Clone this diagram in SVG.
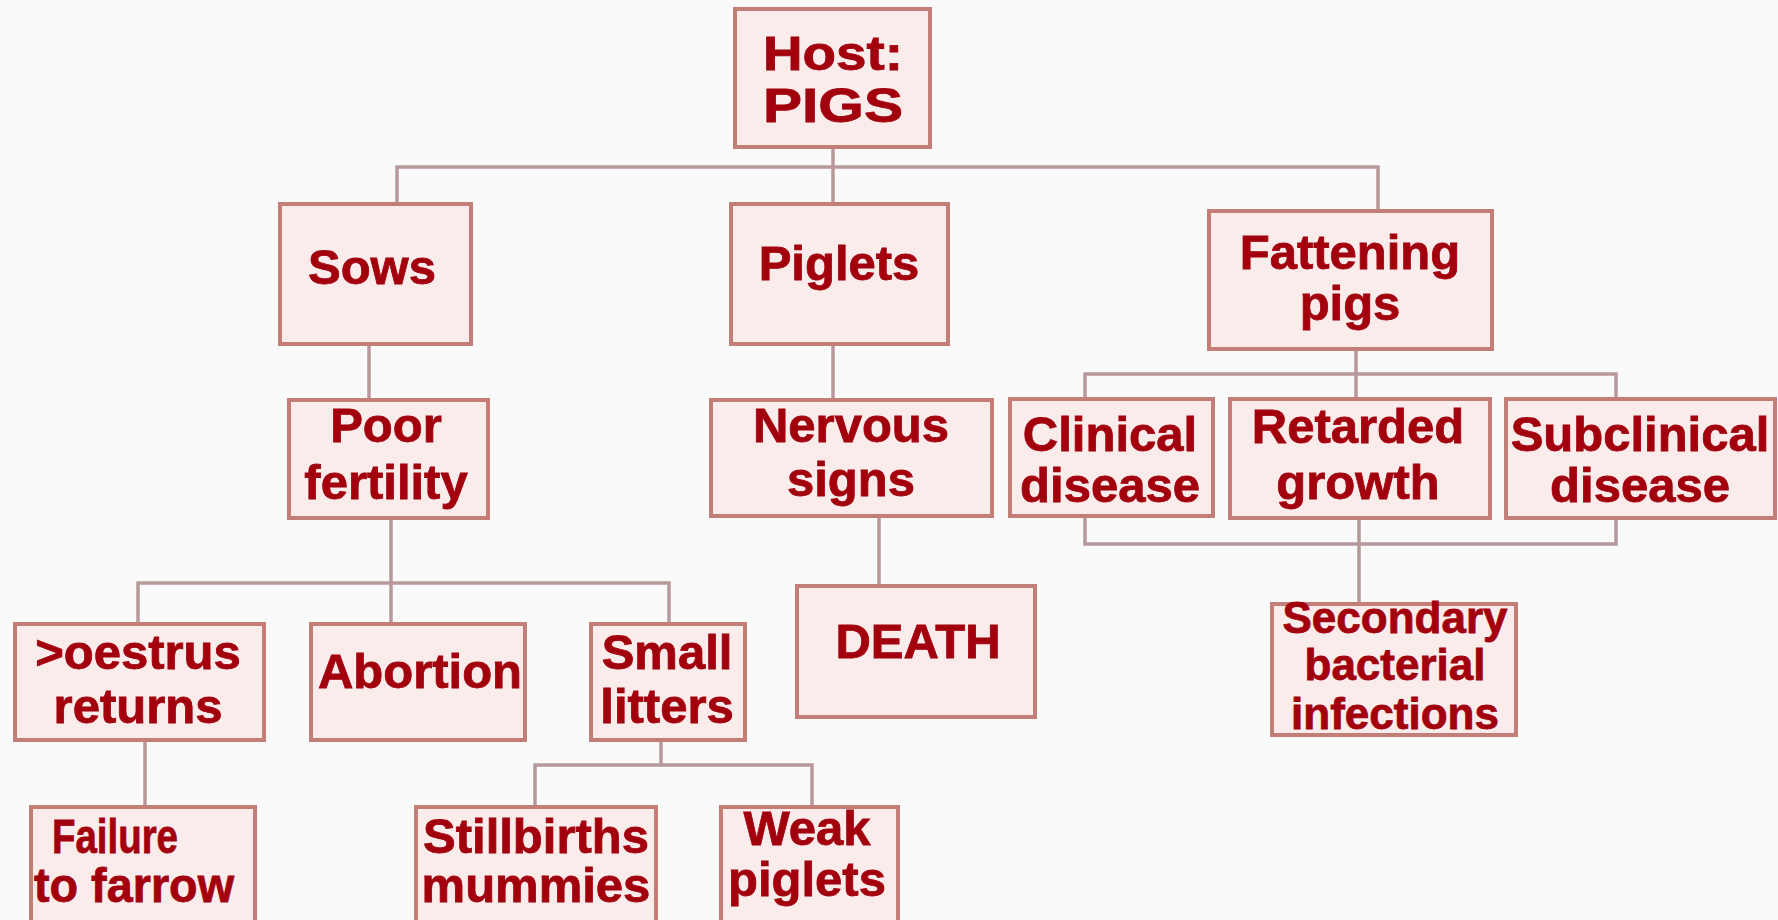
<svg xmlns="http://www.w3.org/2000/svg" width="1778" height="920" viewBox="0 0 1778 920">
<style>
.bg{fill:#fafafa}
.box{fill:#fbecec;stroke:#c47e78;stroke-width:4}
.t{font-family:"Liberation Sans",Arial,sans-serif;font-weight:bold;font-size:49px;fill:#a3000e;stroke:#a3000e;stroke-width:0.8;text-anchor:middle}
.s{font-size:44px}
.c{fill:none;stroke:#b8999b;stroke-width:3.5}
</style>
<rect class="bg" x="0" y="0" width="1778" height="920"/>
<g id="connectors">
<path class="c" d="M833 147V204M397 204V167H1378V211"/>
<path class="c" d="M369 344V400"/>
<path class="c" d="M833 344V400"/>
<path class="c" d="M1356 349V399M1085 399V374H1616V399"/>
<path class="c" d="M1085 516V544H1616V518M1359 518V604"/>
<path class="c" d="M879 516V586"/>
<path class="c" d="M391 518V624M138 624V583H669V624"/>
<path class="c" d="M145 740V807"/>
<path class="c" d="M661 740V765M535 807V765H812V807"/>
</g>
<g id="host"><rect class="box" x="735" y="9" width="195" height="138"/><text class="t" x="833" y="70" textLength="140" lengthAdjust="spacingAndGlyphs">Host:</text><text class="t" x="833" y="122" textLength="140" lengthAdjust="spacingAndGlyphs">PIGS</text></g>
<g id="sows"><rect class="box" x="280" y="204" width="191" height="140"/><text class="t" x="372" y="284">Sows</text></g>
<g id="piglets"><rect class="box" x="731" y="204" width="217" height="140"/><text class="t" x="839" y="280">Piglets</text></g>
<g id="fattening"><rect class="box" x="1209" y="211" width="283" height="138"/><text class="t" x="1350" y="269">Fattening</text><text class="t" x="1350" y="320">pigs</text></g>
<g id="poor-fertility"><rect class="box" x="289" y="400" width="199" height="118"/><text class="t" x="386" y="442">Poor</text><text class="t" x="386" y="499">fertility</text></g>
<g id="nervous-signs"><rect class="box" x="711" y="400" width="281" height="116"/><text class="t" x="851" y="442">Nervous</text><text class="t" x="851" y="496">signs</text></g>
<g id="clinical"><rect class="box" x="1010" y="399" width="203" height="117"/><text class="t" x="1110" y="451">Clinical</text><text class="t" x="1110" y="502">disease</text></g>
<g id="retarded"><rect class="box" x="1230" y="399" width="260" height="119"/><text class="t" x="1358" y="443">Retarded</text><text class="t" x="1358" y="499">growth</text></g>
<g id="subclinical"><rect class="box" x="1506" y="399" width="269" height="119"/><text class="t" x="1640" y="451">Subclinical</text><text class="t" x="1640" y="502">disease</text></g>
<g id="oestrus"><rect class="box" x="15" y="624" width="249" height="116"/><text class="t" x="138" y="669">&gt;oestrus</text><text class="t" x="138" y="723">returns</text></g>
<g id="abortion"><rect class="box" x="311" y="624" width="214" height="116"/><text class="t" x="420" y="688">Abortion</text></g>
<g id="small-litters"><rect class="box" x="591" y="624" width="154" height="116"/><text class="t" x="667" y="669">Small</text><text class="t" x="667" y="723">litters</text></g>
<g id="death"><rect class="box" x="797" y="586" width="238" height="131"/><text class="t" x="918" y="658">DEATH</text></g>
<g id="secondary"><rect class="box" x="1272" y="604" width="244" height="131"/><text class="t s" x="1395" y="633">Secondary</text><text class="t s" x="1395" y="680">bacterial</text><text class="t s" x="1395" y="729">infections</text></g>
<g id="failure"><rect class="box" x="31" y="807" width="224" height="120"/><text class="t" x="115" y="853" textLength="126" lengthAdjust="spacingAndGlyphs">Failure</text><text class="t" x="134" y="902" textLength="200" lengthAdjust="spacingAndGlyphs">to farrow</text></g>
<g id="stillbirths"><rect class="box" x="416" y="807" width="240" height="120"/><text class="t" x="536" y="853">Stillbirths</text><text class="t" x="536" y="902">mummies</text></g>
<g id="weak-piglets"><rect class="box" x="721" y="807" width="177" height="120"/><text class="t" x="807" y="845">Weak</text><text class="t" x="807" y="896">piglets</text></g>
</svg>
